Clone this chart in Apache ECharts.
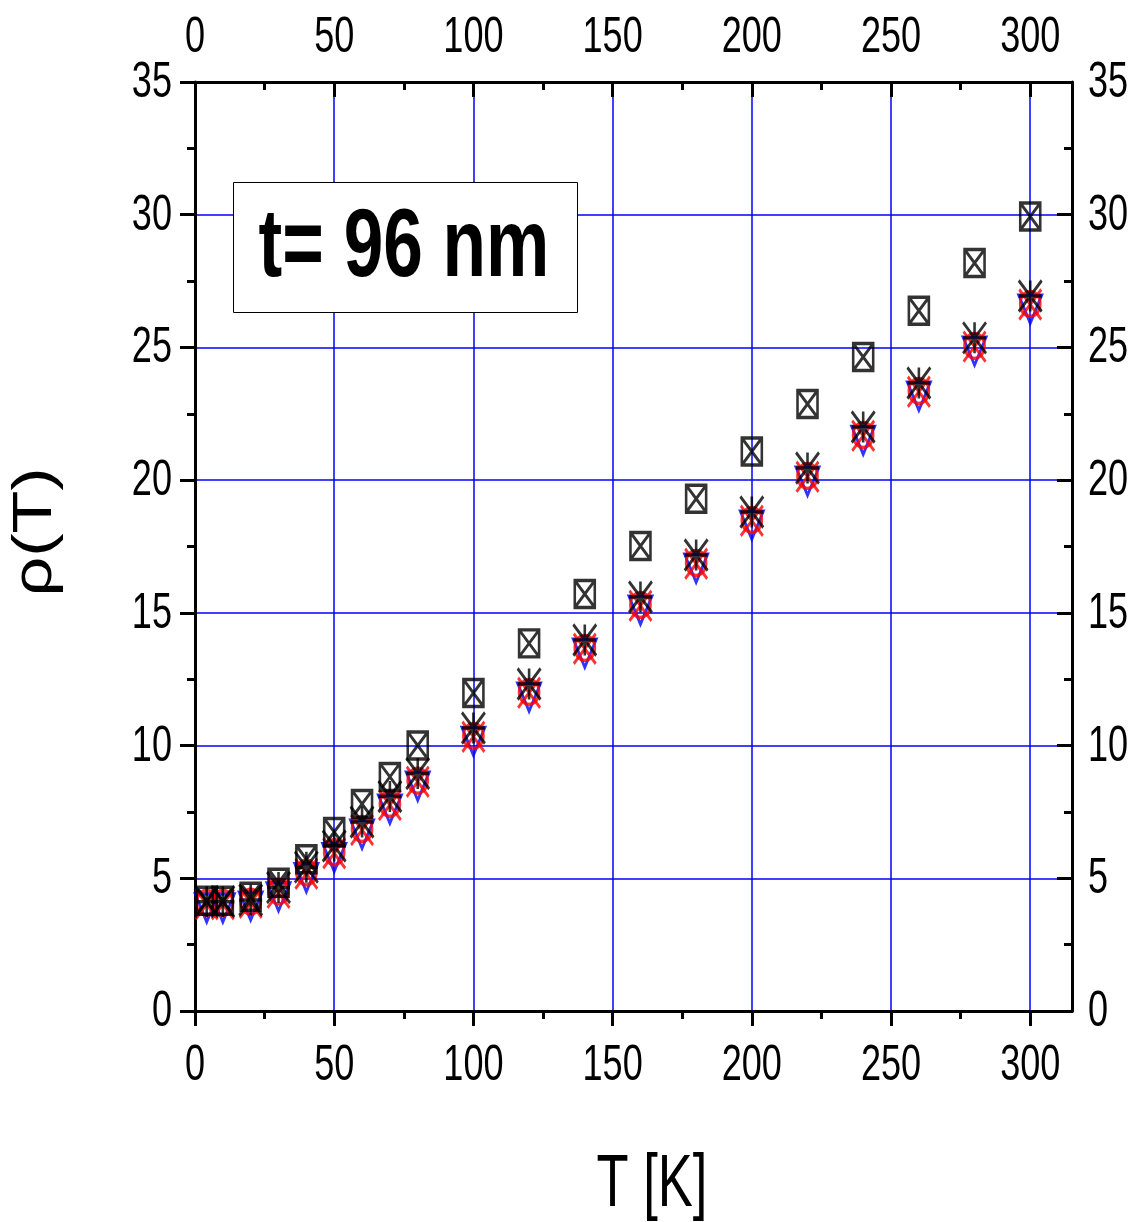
<!DOCTYPE html>
<html>
<head>
<meta charset="utf-8">
<title>Resistivity vs temperature</title>
<script src="https://cdn.jsdelivr.net/npm/echarts@6/dist/echarts.min.js"></script>
<style>
  html, body { margin: 0; padding: 0; background: #fff; overflow: hidden; }
  #chart { width: 1131px; height: 1222px; }
</style>
</head>
<body>
<div id="chart"></div>
<script>
// Temperature points (K)
const temps = [4.2, 10, 20, 30, 40, 50, 60, 70, 80, 100, 120, 140, 160, 180, 200, 220, 240, 260, 280, 300];

// Resistivity for each measurement set
const rhoBoxX     = [4.15, 4.15, 4.30, 4.83, 5.72, 6.74, 7.80, 8.82, 10.00, 11.98, 13.85, 15.71, 17.52, 19.30, 21.08, 22.87, 24.64, 26.38, 28.18, 29.93];
const rhoStar     = [4.12, 4.12, 4.18, 4.65, 5.42, 6.22, 7.12, 8.08, 8.95, 10.66, 12.32, 13.98, 15.60, 17.18, 18.80, 20.46, 22.00, 23.66, 25.36, 26.94];
const rhoCircle   = [4.08, 4.08, 4.12, 4.50, 5.22, 5.98, 6.86, 7.80, 8.68, 10.36, 12.02, 13.68, 15.30, 16.88, 18.50, 20.16, 21.70, 23.36, 25.06, 26.64];
const rhoCross    = [4.02, 4.02, 4.08, 4.45, 5.17, 5.94, 6.82, 7.76, 8.64, 10.33, 11.99, 13.65, 15.27, 16.85, 18.47, 20.13, 21.67, 23.33, 25.03, 26.62];
const rhoTriangle = [3.88, 3.88, 3.95, 4.30, 5.02, 5.78, 6.66, 7.60, 8.47, 10.16, 11.82, 13.48, 15.10, 16.68, 18.30, 19.96, 21.50, 23.16, 24.86, 26.44];

// Axis tick values and their labels
const xMajorTicks = [0, 50, 100, 150, 200, 250, 300];
const xMinorTicks = [25, 75, 125, 175, 225, 275];
const xTickLabels = ['0', '50', '100', '150', '200', '250', '300'];
const yMajorTicks = [0, 5, 10, 15, 20, 25, 30, 35];
const yTickLabels = ['0', '5', '10', '15', '20', '25', '30', '35'];

const FONT = "'Liberation Sans', Arial, sans-serif";

function pairs(ys) { return temps.map((t, i) => [t, ys[i]]); }

const chart = echarts.init(document.getElementById('chart'), null, { renderer: 'canvas' });

const axisLine = { show: true, onZero: false, lineStyle: { color: '#000', width: 3 } };

function xAxisMain(pos, inside, grid) {
  return {
    type: 'value', position: pos, min: 0, max: 315, interval: 50,
    axisLine: axisLine,
    axisTick: { show: true, inside: inside, length: 15, customValues: xMajorTicks, lineStyle: { color: '#000', width: 3 } },
    axisLabel: { show: false },
    splitLine: { show: grid, lineStyle: { color: '#0000ff', width: 1.5 } },
    minorTick: { show: false }
  };
}
function xAxisMinor(pos, inside) {
  return {
    type: 'value', position: pos, min: 0, max: 315, interval: 50,
    axisLine: { show: false, onZero: false },
    axisTick: { show: true, inside: inside, length: 8, customValues: xMinorTicks, lineStyle: { color: '#000', width: 3 } },
    axisLabel: { show: false },
    splitLine: { show: false }
  };
}
function yAxisDef(pos, inside, grid) {
  return {
    type: 'value', position: pos, min: 0, max: 35, interval: 5,
    axisLine: axisLine,
    axisTick: { show: true, inside: inside, length: 15, lineStyle: { color: '#000', width: 3 } },
    minorTick: { show: true, splitNumber: 2, length: 8, lineStyle: { color: '#000', width: 3 } },
    axisLabel: { show: false },
    splitLine: { show: grid, lineStyle: { color: '#0000ff', width: 1.5 } }
  };
}

function markerSeries(name, ys, symbol, size, color, width) {
  return {
    name: name, type: 'scatter', data: pairs(ys),
    symbol: symbol, symbolSize: size,
    itemStyle: { color: 'rgba(0,0,0,0)', borderColor: color, borderWidth: width },
    emphasis: { disabled: true }
  };
}

chart.setOption({
  backgroundColor: '#fff',
  animation: false,
  grid: { left: 195, top: 82, width: 877, height: 929, containLabel: false },
  xAxis: [
    xAxisMain('bottom', false, true),
    xAxisMain('top', true, false),
    xAxisMinor('bottom', false),
    xAxisMinor('top', true)
  ],
  yAxis: [
    yAxisDef('left', false, true),
    yAxisDef('right', true, false)
  ],
  series: [
    markerSeries('triangle', rhoTriangle, 'path://M0,0L10,0L5,12Z', [23, 28], '#0000ff', 3),
    markerSeries('circle', rhoCircle, 'circle', [20, 25], '#ff0000', 3),
    markerSeries('cross', rhoCross, 'path://M0,0L10,14M10,0L0,14', [22, 30], '#ff0000', 3),
    markerSeries('star', rhoStar, 'path://M0,0L10,14M10,0L0,14M5,0L5,14M0,7L10,7', [23, 31], '#000', 3),
    markerSeries('boxX', rhoBoxX, 'path://M0,0L20,0L20,27L0,27Z M0,0L20,27 M20,0L0,27', [20, 27], '#000', 3)
  ]
});

// Tick labels placed at the axis scale positions, in a condensed, tall digit style
const tickFont = { fontFamily: FONT, fontSize: 44, fill: '#000' };
const labels = [];
xMajorTicks.forEach((v, i) => {
  const px = chart.convertToPixel({ xAxisIndex: 0 }, v);
  labels.push({ type: 'text', x: px, y: 1066, scaleX: 0.82, scaleY: 1.15, silent: true,
    style: Object.assign({ text: xTickLabels[i], align: 'center', verticalAlign: 'middle' }, tickFont) });
  labels.push({ type: 'text', x: px, y: 38, scaleX: 0.82, scaleY: 1.15, silent: true,
    style: Object.assign({ text: xTickLabels[i], align: 'center', verticalAlign: 'middle' }, tickFont) });
});
yMajorTicks.forEach((v, i) => {
  const py = chart.convertToPixel({ yAxisIndex: 0 }, v);
  labels.push({ type: 'text', x: 172, y: py + 1, scaleX: 0.82, scaleY: 1.15, silent: true,
    style: Object.assign({ text: yTickLabels[i], align: 'right', verticalAlign: 'middle' }, tickFont) });
  labels.push({ type: 'text', x: 1088, y: py + 1, scaleX: 0.82, scaleY: 1.15, silent: true,
    style: Object.assign({ text: yTickLabels[i], align: 'left', verticalAlign: 'middle' }, tickFont) });
});

chart.setOption({
  graphic: [
    {
      type: 'rect', left: 233, top: 182, z: 10,
      shape: { width: 344, height: 130 },
      style: { fill: '#fff', stroke: '#000', lineWidth: 1 }
    },
    {
      type: 'text', z: 11, x: 404, y: 250, scaleX: 0.89, scaleY: 1.2,
      style: { text: 't= 96 nm', fontFamily: FONT, fontWeight: 'bold', fontSize: 80, fill: '#000', align: 'center', verticalAlign: 'middle' }
    },
    {
      type: 'text', z: 11, x: 652, y: 1186, scaleX: 0.82, scaleY: 1.15,
      style: { text: 'T [K]', fontFamily: FONT, fontSize: 64, fill: '#000', align: 'center', verticalAlign: 'middle' }
    },
    {
      type: 'text', z: 11, x: 36, y: 532, rotation: Math.PI / 2, scaleX: 1.25,
      style: { text: 'ρ(T)', fontFamily: FONT, fontSize: 56, fill: '#000', align: 'center', verticalAlign: 'middle' }
    }
  ].concat(labels)
});
</script>
</body>
</html>
